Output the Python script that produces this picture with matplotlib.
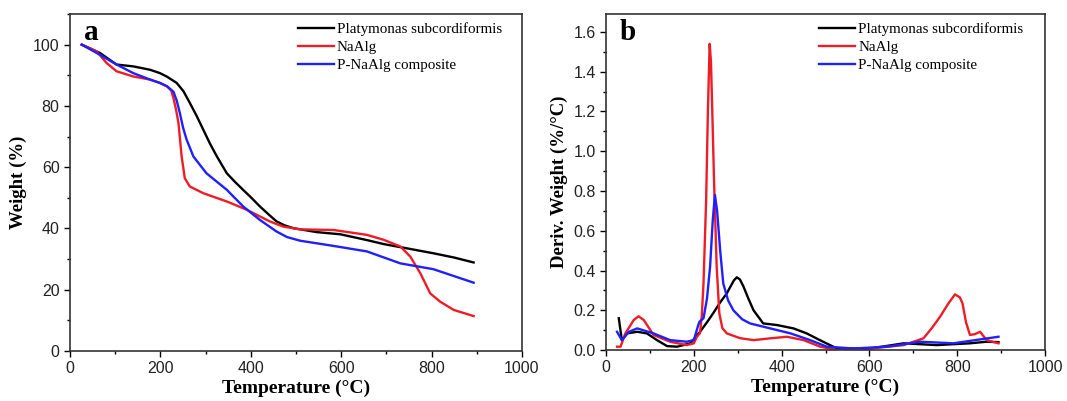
import numpy as np
import matplotlib.pyplot as plt
from matplotlib.ticker import MultipleLocator

# TGA curves (temperature, weight %)
t_black = [26, 66, 103, 140, 177, 199, 215, 236, 251, 265, 280, 295, 310, 325, 347, 365, 383, 400, 420, 440, 457, 475, 494, 546, 598, 657, 694, 731, 804, 850, 893]
w_black = [100, 97.3, 93.5, 92.9, 91.8, 90.7, 89.5, 87.5, 84.8, 81.0, 76.8, 72.2, 67.6, 63.5, 58.0, 55.2, 52.6, 50.2, 47.2, 44.5, 42.3, 41.0, 40.1, 38.8, 38.1, 36.2, 34.9, 33.9, 31.9, 30.5, 28.9]

t_red = [26, 59, 81, 103, 140, 177, 199, 215, 224, 229, 235, 240, 247, 254, 265, 295, 347, 391, 442, 472, 509, 583, 657, 694, 731, 753, 775, 797, 819, 849, 893]
w_red = [100, 97.8, 94.0, 91.3, 89.6, 88.6, 87.5, 86.3, 85.0, 82.5, 78.5, 74.4, 63.5, 56.4, 53.7, 51.5, 48.8, 46.1, 42.3, 40.6, 39.7, 39.5, 37.9, 36.3, 34.1, 30.8, 25.4, 18.8, 16.1, 13.4, 11.4]

t_blue = [26, 66, 103, 140, 177, 199, 215, 229, 236, 243, 250, 258, 273, 302, 347, 383, 420, 457, 480, 509, 583, 657, 731, 804, 893]
w_blue = [100, 96.7, 93.5, 90.7, 88.6, 87.5, 86.4, 84.6, 81.8, 77.7, 73.0, 69.0, 63.5, 58.0, 52.6, 47.2, 42.8, 39.0, 37.2, 36.0, 34.3, 32.5, 28.6, 26.7, 22.3]

# DTG curves (temperature, deriv. weight %/°C)
d_t_black = [29, 36, 48, 71, 93, 116, 139, 162, 192, 214, 230, 244, 260, 275, 291, 298, 305, 313, 324, 336, 358, 389, 427, 457, 487, 526, 602, 678, 753, 829, 867, 894]
d_black = [0.16, 0.05, 0.084, 0.092, 0.084, 0.05, 0.02, 0.017, 0.034, 0.092, 0.14, 0.185, 0.24, 0.285, 0.35, 0.366, 0.355, 0.32, 0.26, 0.20, 0.134, 0.126, 0.109, 0.084, 0.05, 0.008, 0.008, 0.034, 0.025, 0.034, 0.042, 0.04]

d_t_red = [25, 33, 44, 63, 74, 86, 108, 146, 184, 200, 207, 214, 218, 222, 228, 232, 236, 239, 242, 246, 252, 258, 265, 275, 305, 336, 374, 412, 450, 488, 526, 602, 678, 723, 742, 761, 780, 795, 806, 812, 820, 829, 840, 852, 867, 894]
d_red = [0.017, 0.017, 0.084, 0.151, 0.17, 0.151, 0.076, 0.042, 0.025, 0.034, 0.067, 0.085, 0.17, 0.335, 0.755, 1.2, 1.54, 1.45, 1.2, 0.85, 0.42, 0.185, 0.11, 0.084, 0.06, 0.05, 0.059, 0.067, 0.05, 0.017, 0.0, 0.008, 0.025, 0.059, 0.11, 0.168, 0.235, 0.28, 0.265, 0.235, 0.14, 0.076, 0.08, 0.092, 0.05, 0.034]

d_t_blue = [25, 36, 52, 71, 108, 146, 184, 200, 210, 213, 222, 230, 237, 243, 248, 253, 260, 267, 278, 290, 310, 328, 374, 420, 465, 503, 564, 640, 716, 791, 894]
d_blue = [0.092, 0.05, 0.092, 0.109, 0.084, 0.05, 0.042, 0.05, 0.126, 0.143, 0.16, 0.26, 0.42, 0.65, 0.78, 0.7, 0.50, 0.335, 0.25, 0.20, 0.155, 0.134, 0.109, 0.084, 0.05, 0.017, 0.008, 0.017, 0.042, 0.034, 0.067]

labels = ['Platymonas subcordiformis', 'NaAlg', 'P-NaAlg composite']
colors = ['black', '#ee1c25', '#1f1fff']

serif = 'Liberation Serif'
sans = 'Liberation Sans'

fig = plt.figure(figsize=(10.67, 4.01), dpi=100)
ax1 = fig.add_axes([0.0656, 0.1247, 0.4236, 0.8404])
ax2 = fig.add_axes([0.568, 0.127, 0.4114, 0.838])

ax1.plot(t_black, w_black, color=colors[0], linewidth=1.7, label=labels[0])
ax1.plot(t_red, w_red, color=colors[1], linewidth=1.7, label=labels[1])
ax1.plot(t_blue, w_blue, color=colors[2], linewidth=1.7, label=labels[2])

ax2.plot(d_t_black, d_black, color=colors[0], linewidth=1.7, label=labels[0])
ax2.plot(d_t_red, d_red, color=colors[1], linewidth=1.7, label=labels[1])
ax2.plot(d_t_blue, d_blue, color=colors[2], linewidth=1.7, label=labels[2])

ax1.set_xlim(0, 1000)
ax1.set_ylim(0, 110)
ax1.xaxis.set_major_locator(MultipleLocator(200))
ax1.xaxis.set_minor_locator(MultipleLocator(100))
ax1.yaxis.set_major_locator(MultipleLocator(20))
ax1.yaxis.set_minor_locator(MultipleLocator(10))
ax1.set_ylabel('Weight (%)', fontfamily=serif, fontweight='bold', fontsize=13.5)

ax2.set_xlim(0, 1000)
ax2.set_ylim(0, 1.69)
ax2.xaxis.set_major_locator(MultipleLocator(200))
ax2.xaxis.set_minor_locator(MultipleLocator(100))
ax2.yaxis.set_major_locator(MultipleLocator(0.2))
ax2.yaxis.set_minor_locator(MultipleLocator(0.1))
ax2.set_ylabel('Deriv. Weight (%/°C)', fontfamily=serif, fontweight='bold', fontsize=13.5)

for ax, letter, lx in [(ax1, 'a', 0.956), (ax2, 'b', 0.951)]:
    ax.set_xlabel('Temperature (°C)', fontfamily=serif, fontweight='bold', fontsize=14, labelpad=2)
    ax.tick_params(which='major', direction='out', length=4, width=1, labelsize=11.5,
                   labelcolor='#222222')
    ax.tick_params(which='minor', direction='out', length=2.5, width=1)
    for lab in ax.get_xticklabels() + ax.get_yticklabels():
        lab.set_fontfamily(sans)
    for sp in ax.spines.values():
        sp.set_linewidth(1.2)
        sp.set_color('#333333')
    ax.text(0.03, 0.985, letter, transform=ax.transAxes, fontfamily=serif,
            fontweight='bold', fontsize=21, va='top', ha='left')
    ax.legend(loc='upper right', frameon=False, prop={'family': serif, 'size': 10.8},
              handlelength=2.4, handletextpad=0.2, labelspacing=0.32,
              borderaxespad=0, borderpad=0, bbox_to_anchor=(lx, 0.976))

fig.savefig('out.png', dpi=100)
